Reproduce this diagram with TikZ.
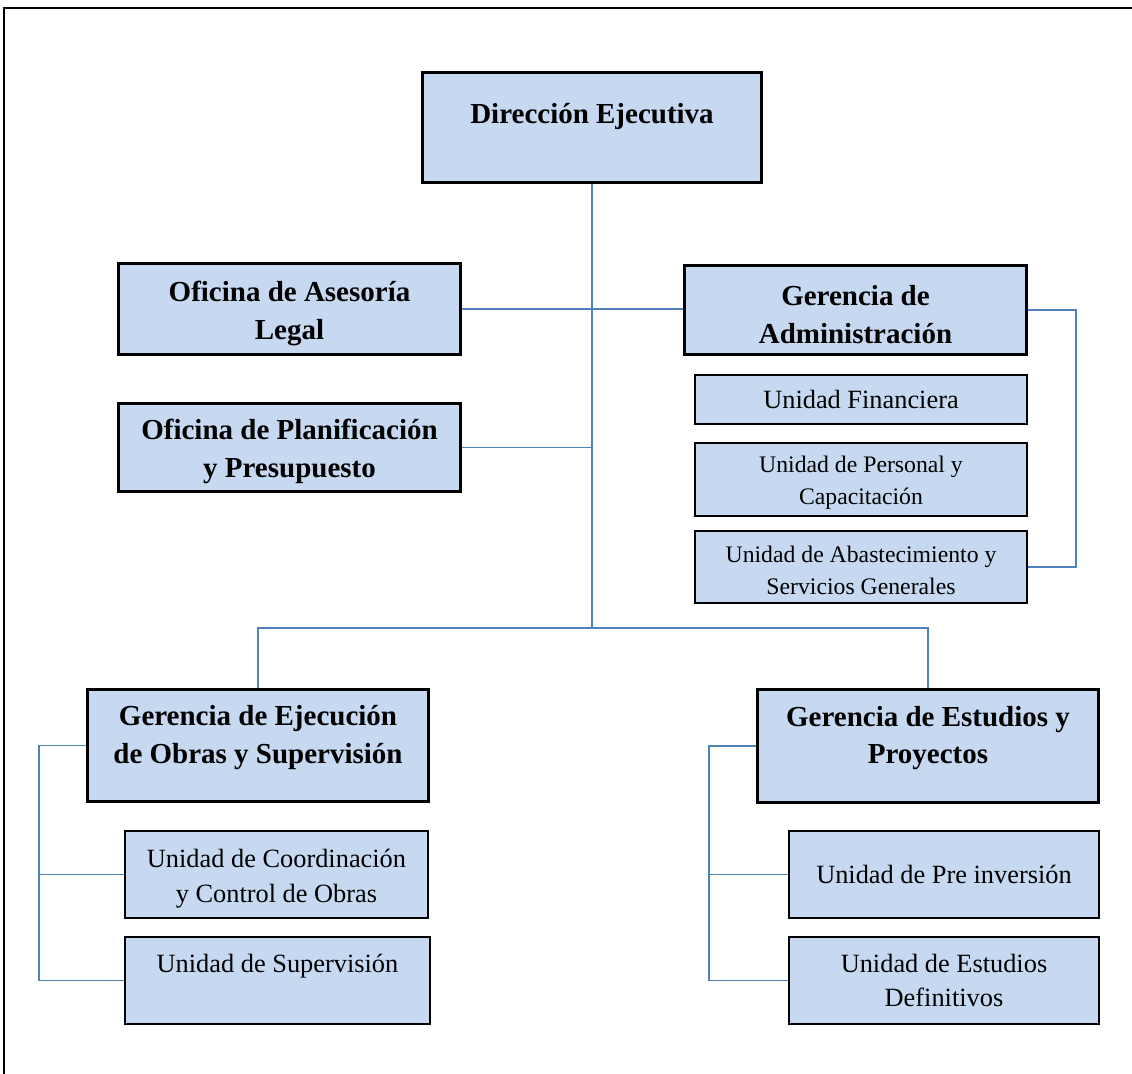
\documentclass[tikz,border=0pt]{standalone}
\usepackage{fontspec}
\setmainfont{Liberation Serif}
\pgfdeclarelayer{bg}
\pgfsetlayers{bg,main}
\definecolor{boxblue}{HTML}{C6D9F0}
\definecolor{linkblue}{HTML}{4F81BD}
\newcommand{\boxstrut}{\rule{0pt}{1em}}
\tikzset{
    head/.style={rectangle, draw, line width=1.7pt, fill=boxblue, inner sep=0mm,
        minimum width=6.84cm, align=center,
        font=\fontsize{16.5pt}{21.6pt}\selectfont\bfseries},
    unit/.style={rectangle, draw, line width=1pt, fill=boxblue, inner sep=0mm,
        align=center, font=\fontsize{15pt}{19.6pt}\selectfont},
    smallunit/.style={font=\fontsize{13.5pt}{18.1pt}\selectfont},
    link/.style={draw=linkblue, line width=1.1pt}
}

\begin{document}
\begin{tikzpicture}
        \useasboundingbox (0cm, 0cm) rectangle (22.640000cm, -21.460000cm);
        \draw [line width=1.2pt] (0.080000cm, -23.000000cm) -- (0.080000cm, -0.160000cm) -- (24.000000cm, -0.160000cm);
        \node (dir) [head, minimum width=6.78cm, minimum height=2.20cm] at (11.840000cm, -2.550000cm) {\boxstrut Dirección Ejecutiva\\\mbox{}};
        \node (legal) [head, minimum height=1.82cm] at (5.790000cm, -6.180000cm) {\boxstrut Oficina de Asesoría\\Legal};
        \node (plan) [head, minimum height=1.76cm] at (5.790000cm, -8.950000cm) {\boxstrut Oficina de Planificación\\y Presupuesto};
        \node (admin) [head, minimum height=1.78cm] at (17.110000cm, -6.200000cm) {\boxstrut Gerencia de\\Administración};
        \node (fin) [unit, minimum width=6.64cm, minimum height=0.98cm] at (17.220000cm, -7.990000cm) {Unidad Financiera};
        \node (pers) [unit, smallunit, minimum width=6.64cm, minimum height=1.46cm] at (17.220000cm, -9.590000cm) {\boxstrut Unidad de Personal y\\Capacitación};
        \node (abast) [unit, smallunit, minimum width=6.64cm, minimum height=1.44cm] at (17.220000cm, -11.340000cm) {\boxstrut Unidad de Abastecimiento y\\Servicios Generales};
        \node (ejec) [head, minimum width=6.82cm, minimum height=2.24cm] at (5.160000cm, -14.910000cm) {Gerencia de Ejecución\\de Obras y Supervisión\\[-9pt]\mbox{}};
        \node (estu) [head, minimum width=6.82cm, minimum height=2.26cm] at (18.560000cm, -14.920000cm) {Gerencia de Estudios y\\Proyectos\\[-9pt]\mbox{}};
        \node (coord) [unit, minimum width=6.06cm, minimum height=1.74cm] at (5.530000cm, -17.490000cm) {\boxstrut Unidad de Coordinación\\y Control de Obras};
        \node (superv) [unit, minimum width=6.10cm, minimum height=1.74cm] at (5.550000cm, -19.610000cm) {Unidad de Supervisión\\\mbox{}};
        \node (prein) [unit, minimum width=6.20cm, minimum height=1.74cm] at (18.880000cm, -17.490000cm) {Unidad de Pre inversión};
        \node (defin) [unit, minimum width=6.20cm, minimum height=1.74cm] at (18.880000cm, -19.610000cm) {Unidad de Estudios\\Definitivos};
        \coordinate (hub) at (11.840000cm, -12.560000cm);
        \coordinate (lbus) at (0.780000cm, -14.910000cm);
        \coordinate (rbus) at (14.180000cm, -14.920000cm);
        \begin{pgfonlayer}{bg}
                \draw [link] (dir.south) -- (hub);
                \draw [link] (legal.east) -- (legal.east -| admin.west);
                \draw [link] (plan.east) -- (plan.east -| hub);
                \draw [link] (hub) -| (ejec.north);
                \draw [link] (hub) -| (estu.north);
                \draw [link] (admin.east) -- ++(0.96cm, 0cm) |- (abast.east);
                \draw [link] (ejec.west) -- (ejec.west -| lbus) |- (superv.west);
                \draw [link] (coord.west) -- (coord.west -| lbus);
                \draw [link] (estu.west) -- (estu.west -| rbus) |- (defin.west);
                \draw [link] (prein.west) -- (prein.west -| rbus);
        \end{pgfonlayer}
\end{tikzpicture}
\end{document}
